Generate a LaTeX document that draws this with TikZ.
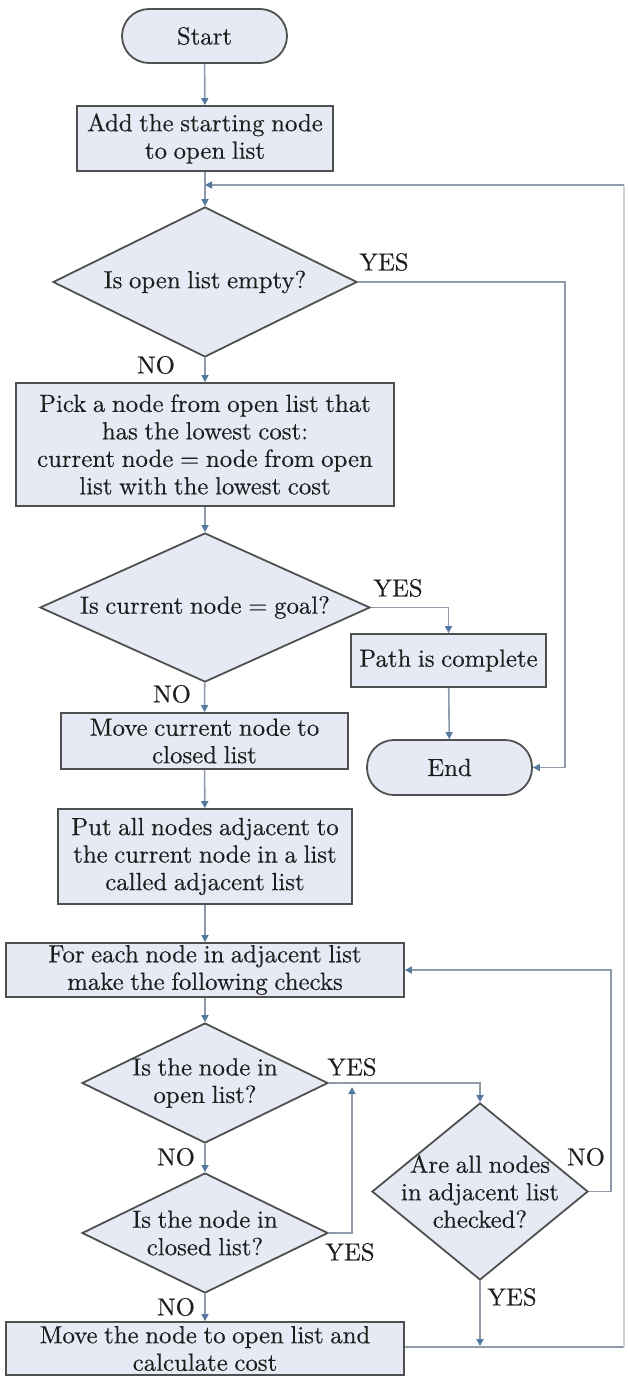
\documentclass[tikz,border=0pt]{standalone}
\usepackage{fontspec}
\newfontfamily\tmsfont{lmroman10-regular.otf}[FakeBold=0.35, WordSpace=0.8]
\usetikzlibrary{shapes.geometric,arrows.meta}
\definecolor{boxfill}{HTML}{E6EAF4}
\definecolor{boxdraw}{HTML}{505050}
\definecolor{linecol}{HTML}{8E9BAA}
\definecolor{tipcol}{HTML}{55789F}
\definecolor{txtcol}{HTML}{1E1E1E}
\tikzset{
  x=1pt, y=-1pt,
  every node/.style={font=\tmsfont\fontsize{24.8}{27.5}\selectfont, text=txtcol},
  procbox/.style={draw=boxdraw, fill=boxfill, line width=1.8pt, rectangle, inner sep=0pt, align=center},
  termbox/.style={draw=boxdraw, fill=boxfill, line width=1.8pt, rectangle, rounded corners=27pt, inner sep=0pt, align=center},
  decbox/.style={draw=boxdraw, fill=boxfill, line width=1.8pt, diamond, inner sep=0pt},
  txt/.style={align=center, inner sep=0pt},
  lbl/.style={inner sep=0pt},
  conn/.style={draw=linecol, line width=1.6pt, -{Triangle[length=7pt,width=7pt,fill=tipcol,color=tipcol]}},
  plain/.style={draw=linecol, line width=1.6pt},
  faint/.style={draw=linecol!45, line width=1.6pt}
}
\begin{document}
\begin{tikzpicture}
\useasboundingbox (0,0) rectangle (627,1376);
% nodes
\node[termbox, minimum width=165pt, minimum height=54pt] (start) at (204.5,36) {Start};
\node[procbox, minimum width=256pt, minimum height=65pt] (add) at (205,138.5) {Add the starting node\\to open list};
\node[decbox, minimum width=304pt, minimum height=150pt] (d1) at (205,282) {};
\node[txt] at (d1) {Is open list empty?};
\node[procbox, minimum width=378pt, minimum height=123pt] (pick) at (205,444.5) {Pick a node from open list that\\has the lowest cost:\\current node = node from open\\list with the lowest cost};
\node[decbox, minimum width=330pt, minimum height=149pt] (d2) at (205,607.5) {};
\node[txt] at (d2) {Is current node = goal?};
\node[procbox, minimum width=195pt, minimum height=53pt] (path) at (448.5,660.5) {Path is complete};
\node[procbox, minimum width=287pt, minimum height=56pt] (move) at (204.5,741) {Move current node to\\closed list};
\node[termbox, minimum width=165pt, minimum height=55pt] (end) at (449.5,767.5) {End};
\node[procbox, minimum width=294pt, minimum height=95pt] (put) at (205,856.5) {Put all nodes adjacent to\\the current node in a list\\called adjacent list};
\node[procbox, minimum width=398pt, minimum height=54pt] (each) at (205,970) {For each node in adjacent list\\make the following checks};
\node[decbox, minimum width=246pt, minimum height=120pt] (d3) at (205,1083) {};
\node[txt] at (d3) {Is the node in\\open list?};
\node[decbox, minimum width=246pt, minimum height=120pt] (d4) at (205,1233) {};
\node[txt] at (d4) {Is the node in\\closed list?};
\node[decbox, minimum width=216pt, minimum height=177pt] (d5) at (480,1191.5) {};
\node[txt] at (d5) {Are all nodes\\in adjacent list\\checked?};
\node[procbox, minimum width=398pt, minimum height=53pt] (last) at (205,1348.5) {Move the node to open list and\\calculate cost};
% labels
\node[lbl] at (384,262) {YES};
\node[lbl] at (156,365) {NO};
\node[lbl] at (398,588) {YES};
\node[lbl] at (172,694) {NO};
\node[lbl] at (352,1067) {YES};
\node[lbl] at (176,1157) {NO};
\node[lbl] at (350,1252) {YES};
\node[lbl] at (176,1307) {NO};
\node[lbl] at (586,1157) {NO};
\node[lbl] at (512,1297) {YES};
% helper coordinates
\coordinate (loopin) at (205,185);
\coordinate (j1t) at (352,1087);
\coordinate (j2) at (480,1346);
% connectors
\draw[conn] (start) -- (add);
\draw[conn] (add) -- (d1);
\draw[plain] (last.east |- 0,1347) -- (624,1347);
\draw[faint] (624,1347) -- (624,185);
\draw[conn] (624,185) -- (loopin);
\draw[conn] (d1.east) -- (565,282) -- (565,767.5) -- (end.east);
\draw[conn] (d1) -- (pick);
\draw[conn] (pick) -- (d2);
\draw[conn] (d2.east) -| (path.north);
\draw[conn] (path) -- (end);
\draw[conn] (d2) -- (move);
\draw[conn] (move) -- (put);
\draw[conn] (put) -- (each);
\draw[conn] (each) -- (d3);
\draw[conn] (d3.east) -| (d5.north);
\draw[conn] (d3) -- (d4);
\draw[conn] (d4.east) -| (j1t);
\draw[conn] (d4) -- (last);
\draw[conn] (d5.east) -- (611,1191.5) -- (611,970) -- (each.east);
\draw[conn] (d5.south) -- (j2);
\end{tikzpicture}
\end{document}
